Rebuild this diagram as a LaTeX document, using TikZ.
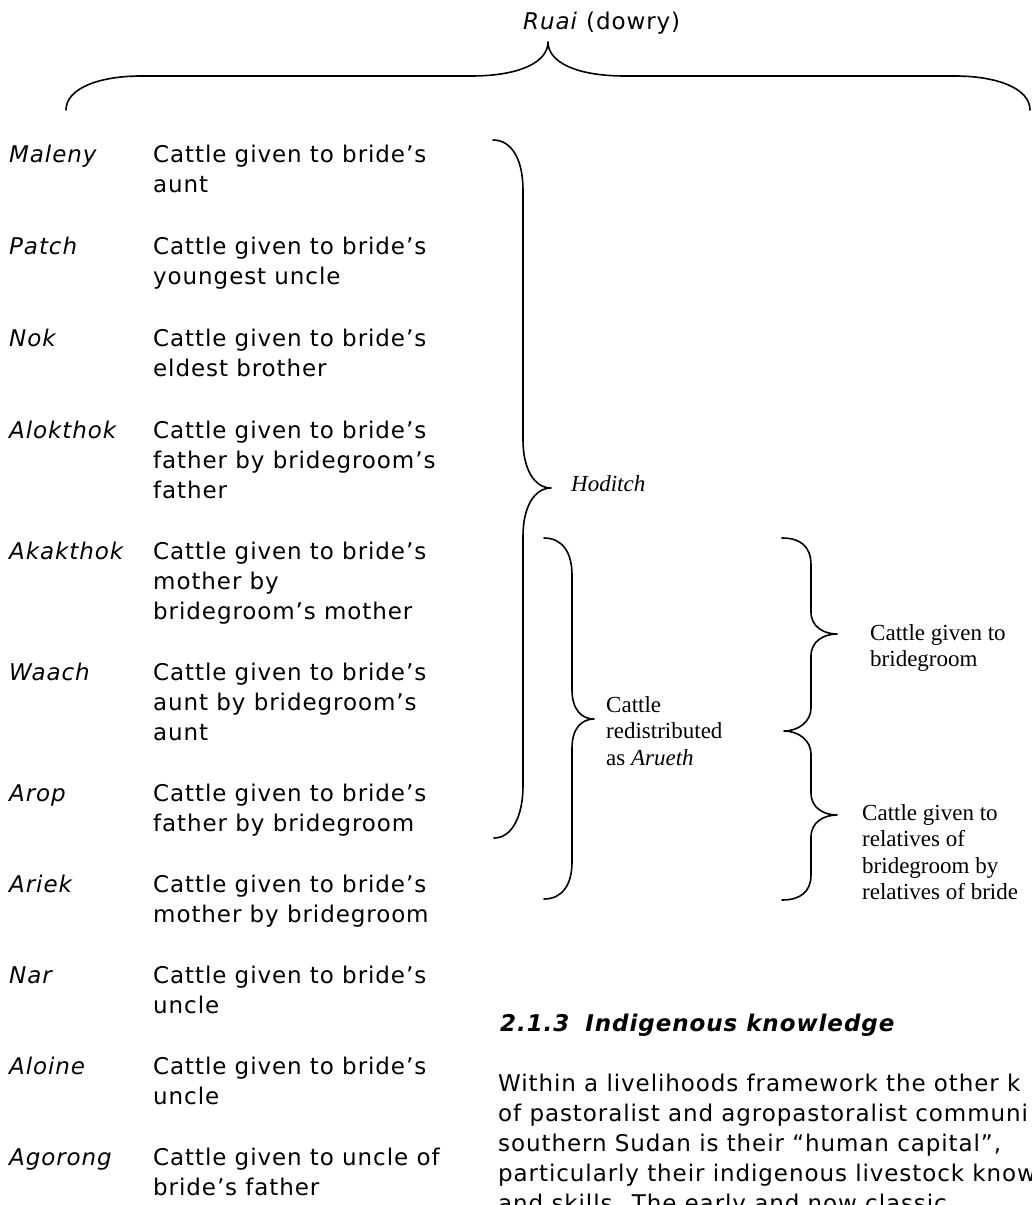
\documentclass[tikz,border=0pt]{standalone}
\usepackage{fontspec}
\setmainfont{DejaVu Sans}[
  ItalicFont={DejaVu Sans Oblique},
  BoldFont={DejaVu Sans Bold},
  BoldItalicFont={DejaVu Sans Bold Oblique},
  LetterSpace=4]
\newfontfamily\annserif{Liberation Serif}
\newcommand{\listsize}{\fontsize{23}{30}\selectfont}
\newcommand{\annsize}{\fontsize{23}{26.5}\selectfont}

\tikzset{
  term/.style={anchor=base west, inner sep=0pt, font=\listsize\itshape},
  gloss/.style={anchor=north west, inner sep=0pt, align=left, font=\listsize},
  annot/.style={anchor=north west, inner sep=0pt, align=left, font=\annserif\annsize},
  bodyline/.style={anchor=base west, inner sep=0pt, font=\listsize},
  brace/.style={line width=1.6pt, line join=round, line cap=round}
}

\begin{document}
\begin{tikzpicture}[x=1pt, y=-1pt]
  \useasboundingbox (0,0) rectangle (1032,1205);
  \fill[white] (0,0) rectangle (1032,1205);
  \clip (0,0) rectangle (1032,1205);

  % ---- dowry heading and its brace ----
  \node[term, font=\listsize] (ruai) at (523,29) {\textit{Ruai} (dowry)};
  \draw[brace] (66,110) .. controls (66,88) and (100,76) .. (141,76)
    -- (471,76) .. controls (520,76) and (548,62) .. (548,42)
    .. controls (548,62) and (576,76) .. (625,76)
    -- (955,76) .. controls (996,76) and (1030,88) .. (1030,110);

  % ---- list of cattle payments ----
  % each entry: term, first baseline, gloss
  \foreach \t/\b/\g [count=\i] in {
    Maleny/162/{Cattle given to bride’s\\aunt},
    Patch/254/{Cattle given to bride’s\\youngest uncle},
    Nok/346/{Cattle given to bride’s\\eldest brother},
    Alokthok/438/{Cattle given to bride’s\\father by bridegroom’s\\father},
    Akakthok/559/{Cattle given to bride’s\\mother by\\bridegroom’s mother},
    Waach/680/{Cattle given to bride’s\\aunt by bridegroom’s\\aunt},
    Arop/801/{Cattle given to bride’s\\father by bridegroom},
    Ariek/892/{Cattle given to bride’s\\mother by bridegroom},
    Nar/983/{Cattle given to bride’s\\uncle},
    Aloine/1074/{Cattle given to bride’s\\uncle},
    Agorong/1165/{Cattle given to uncle of\\bride’s father}}
  {
    \node[term] (term\i) at (9,\b) {\t};
    \node[gloss] (gloss\i) at (153,\b-17.5) {\g};
  }

  % ---- Hoditch brace ----
  \coordinate (hodtip) at (551,488);
  \draw[brace] (493,140) .. controls (512,140) and (523,160) .. (523,190)
    -- (523,440) .. controls (523,470) and (535,488) .. (hodtip)
    .. controls (535,488) and (523,506) .. (523,536)
    -- (523,786) .. controls (523,816) and (512,838) .. (494,838);
  \node[anchor=base west, inner sep=0pt, font=\annserif\annsize\itshape]
    (hoditch) at (571,491) {Hoditch};

  % ---- Arueth brace ----
  \coordinate (arutip) at (594,719);
  \draw[brace] (544,538) .. controls (562,538) and (572,552) .. (572,575)
    -- (572,690) .. controls (572,710) and (582,719) .. (arutip)
    .. controls (582,719) and (572,728) .. (572,748)
    -- (572,862) .. controls (572,885) and (562,899) .. (544,899);
  \node[annot] (arueth) at (606,712-15.7)
    {Cattle\\redistributed\\as \textit{Arueth}};

  % ---- split of the Arueth cattle ----
  \coordinate (grtip) at (837,634);
  \coordinate (reltip) at (837,815);
  \draw[brace] (782,538) .. controls (800,538) and (811,546) .. (811,565)
    -- (811,612) .. controls (811,627) and (824,634) .. (grtip)
    .. controls (824,634) and (811,641) .. (811,656)
    -- (811,708) .. controls (811,722) and (798,731) .. (784,731)
    .. controls (798,731) and (811,740) .. (811,754)
    -- (811,793) .. controls (811,808) and (824,815) .. (reltip)
    .. controls (824,815) and (811,822) .. (811,837)
    -- (811,875) .. controls (811,892) and (800,900) .. (782,900);
  \node[annot] (groom) at (870,640-15.7) {Cattle given to\\bridegroom};
  \node[annot] (relatives) at (862,820-15.7)
    {Cattle given to\\relatives of\\bridegroom by\\relatives of bride};

  % ---- following section of text ----
  \node[anchor=base west, inner sep=0pt, font=\listsize\bfseries\itshape]
    (sect) at (500,1031) {2.1.3\hspace{0.7em}Indigenous knowledge};
  \node[bodyline] (body1) at (498,1091) {Within a livelihoods framework the other k};
  \node[bodyline] (body2) at (498,1121) {of pastoralist and agropastoralist communi};
  \node[bodyline] (body3) at (498,1151) {southern Sudan is their “human capital”,};
  \node[bodyline] (body4) at (498,1181) {particularly their indigenous livestock know};
  \node[bodyline] (body5) at (498,1211) {and skills. The early and now classic};
\end{tikzpicture}
\end{document}
